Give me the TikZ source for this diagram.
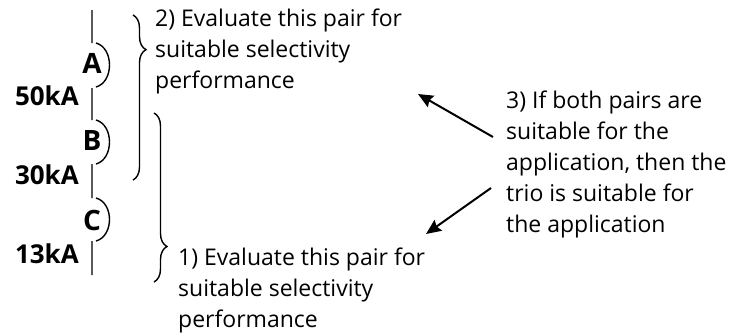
\documentclass[tikz,border=0pt]{standalone}
\usepackage{fontspec}
\setmainfont{Open Sans}
\usepackage{tikz}
\usetikzlibrary{arrows.meta,decorations.pathreplacing}

\begin{document}
\begin{tikzpicture}[x=1pt,y=-1pt,
		wire/.style={line width=1.4pt},
		pair/.style={line width=1.4pt,decorate,decoration={brace,amplitude=13pt,aspect=#1}},
		note/.style={anchor=base west,align=left,inner sep=0pt,font=\fontsize{23}{31}\selectfont},
		cb/.style={inner sep=0pt,font=\fontsize{28}{30}\selectfont\bfseries},
		ka/.style={anchor=base east,inner sep=0pt,font=\fontsize{26}{28}\selectfont\bfseries},
		pointer/.style={line width=2pt,-{Stealth[length=15pt,width=13pt,inset=2pt]}}]
		\useasboundingbox (0,0) rectangle (734,335);
		%
		\node[cb] (A) at (92,63) {A};
		\node[cb] (B) at (92,141) {B};
		\node[cb] (C) at (92,220) {C};
		\node[ka] (I50) at (79,105) {50kA};
		\node[ka] (I30) at (79,184) {30kA};
		\node[ka] (I13) at (79,263) {13kA};
		%
		\draw[wire] (92,10) -- (92,43) (96,43) .. controls (114,48) and (114,82) .. (96,87)
		(92,88) -- (92,120) (96,120) .. controls (114,125) and (114,159) .. (96,164)
		(92,164) -- (92,198) (96,198) .. controls (114,203) and (114,236) .. (96,241)
		(92,241) -- (92,275);
		%
		\draw[pair=0.21] (133,15) -- (133,180);
		\draw[pair=0.79] (154,113) -- (154,282);
		%
		% multi-line notes are anchored at the baseline of their last line
		\node[note] (upper) at (155,88) {2) Evaluate this pair for\\suitable selectivity\\performance};
		\node[note] (lower) at (178,327) {1) Evaluate this pair for\\suitable selectivity\\performance};
		\node[note] (trio) at (506,232) {3) If both pairs are\\suitable for the\\application, then the\\trio is suitable for\\the application};
		%
		\coordinate (upTail) at (493,137);
		\coordinate (upTip) at (418,94);
		\coordinate (lowTail) at (491,188);
		\coordinate (lowTip) at (426,234);
		\path[pointer]
		(upTail) edge (upTip)
		(lowTail) edge (lowTip);
		\end{tikzpicture}
\end{document}
